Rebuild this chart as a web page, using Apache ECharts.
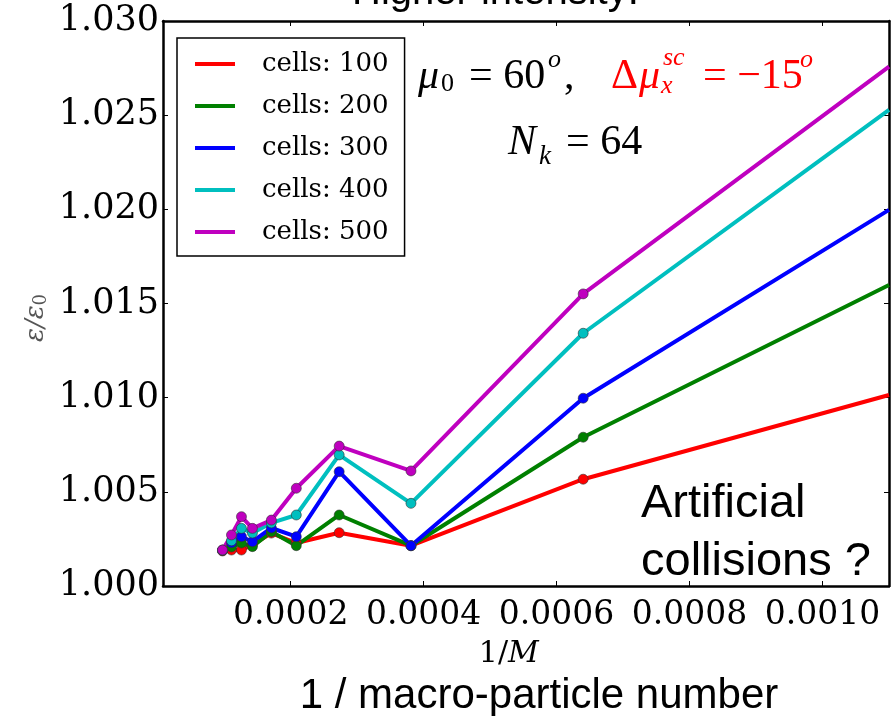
<!DOCTYPE html>
<html>
<head>
<meta charset="utf-8">
<script src="https://cdn.jsdelivr.net/npm/echarts@6/dist/echarts.min.js"></script>
<style>
  html, body { margin: 0; padding: 0; background: #fff; }
  #chart { width: 891px; height: 716px; }
</style>
</head>
<body>
<div id="chart"></div>
<script>
// 1/M on the x axis; the last entry is where the lines leave the frame
var invM = [0.0000975, 0.000111, 0.000126, 0.0001425, 0.000171, 0.0002085, 0.000273, 0.000381, 0.00064, 0.0011];

var cells100 = [1.00186, 1.00191, 1.00191, 1.00218, 1.00281, 1.00228, 1.00283, 1.00214, 1.00567, 1.01014];
var cells200 = [1.00190, 1.00207, 1.00228, 1.00209, 1.00288, 1.00214, 1.00377, 1.00214, 1.00790, 1.01598];
var cells300 = [1.00190, 1.00230, 1.00262, 1.00235, 1.00308, 1.00262, 1.00607, 1.00214, 1.00997, 1.01997];
var cells400 = [1.00190, 1.00240, 1.00306, 1.00281, 1.00335, 1.00377, 1.00696, 1.00439, 1.01342, 1.02528];
var cells500 = [1.00191, 1.00271, 1.00368, 1.00306, 1.00350, 1.00519, 1.00743, 1.00611, 1.01551, 1.02758];

var seriesNames = ['cells: 100', 'cells: 200', 'cells: 300', 'cells: 400', 'cells: 500'];
var seriesColors = ['#ff0000', '#008000', '#0000ff', '#00bfbf', '#bf00bf'];
var seriesValues = [cells100, cells200, cells300, cells400, cells500];

var chart = echarts.init(document.getElementById('chart'));

function lineSeries(name, vals, color) {
  return {
    name: name,
    type: 'line',
    data: invM.map(function (x, i) {
      var p = { value: [x, vals[i]] };
      if (i === invM.length - 1) p.symbol = 'none'; // edge of frame, no marker
      return p;
    }),
    symbol: 'circle',
    symbolSize: 10,
    lineStyle: { color: color, width: 4 },
    itemStyle: { color: color, borderColor: '#333', borderWidth: 0.6 },
    emphasis: { disabled: true },
    silent: true
  };
}

// one piece of text for the annotations
function txt(s, x, y, size, o) {
  o = o || {};
  return {
    type: 'text', x: x, y: y, rotation: o.rot || 0, z: 100,
    style: {
      text: s,
      fontSize: size,
      fontFamily: o.font || 'Liberation Serif',
      fontStyle: o.italic ? 'italic' : 'normal',
      fill: o.color || '#000',
      align: o.align || 'left',
      verticalAlign: 'middle'
    }
  };
}

var red = { color: '#ff0000' };

var option = {
  animation: false,
  backgroundColor: '#fff',
  grid: { left: 163, right: 2, top: 21, bottom: 130, containLabel: false },
  legend: {
    data: seriesNames,
    orient: 'vertical',
    left: 177,
    top: 38,
    padding: [13, 16, 11, 18],
    itemGap: 16,
    itemWidth: 40,
    itemHeight: 4,
    icon: 'rect',
    itemStyle: { borderWidth: 0 },
    borderColor: '#000',
    borderWidth: 1.5,
    backgroundColor: '#fff',
    formatter: '{t|{name}}',
    textStyle: {
      fontFamily: 'DejaVu Serif',
      fontSize: 26,
      lineHeight: 26,
      color: '#000',
      rich: { t: { fontFamily: 'DejaVu Serif', fontSize: 26, padding: [0, 0, 0, 22] } }
    },
    selectedMode: false
  },
  xAxis: [{
    type: 'value',
    min: 0.000008,
    max: 0.0011,
    splitNumber: 5,
    axisLine: { show: true, lineStyle: { color: '#000', width: 2.5 } },
    axisTick: { show: true, inside: true, length: 5, lineStyle: { color: '#000', width: 1 } },
    axisLabel: {
      showMinLabel: false, showMaxLabel: false,
      margin: 13,
      fontFamily: 'DejaVu Serif', fontSize: 33, color: '#000',
      formatter: function (v) { return v.toFixed(4); }
    },
    splitLine: { show: false }
  }, {
    type: 'value',
    position: 'top',
    min: 0.000008,
    max: 0.0011,
    splitNumber: 5,
    axisLine: { show: true, onZero: false, lineStyle: { color: '#000', width: 2.5 } },
    axisTick: { show: true, inside: true, length: 5, lineStyle: { color: '#000', width: 1 } },
    axisLabel: { show: false },
    splitLine: { show: false }
  }],
  yAxis: [{
    type: 'value',
    min: 1.000,
    max: 1.030,
    interval: 0.005,
    axisLine: { show: true, lineStyle: { color: '#000', width: 2.5 } },
    axisTick: { show: true, inside: true, length: 5, lineStyle: { color: '#000', width: 1 } },
    axisLabel: {
      margin: 4,
      fontFamily: 'DejaVu Serif', fontSize: 35, color: '#000',
      formatter: function (v) { return v.toFixed(3); }
    },
    splitLine: { show: false }
  }, {
    type: 'value',
    position: 'right',
    min: 1.000,
    max: 1.030,
    interval: 0.005,
    axisLine: { show: true, onZero: false, lineStyle: { color: '#000', width: 2.5 } },
    axisTick: { show: true, inside: true, length: 5, lineStyle: { color: '#000', width: 1 } },
    axisLabel: { show: false },
    splitLine: { show: false }
  }],
  series: seriesNames.map(function (n, i) {
    return lineSeries(n, seriesValues[i], seriesColors[i]);
  }),
  graphic: [
    // cut-off heading at the very top
    txt('Higher intensity:', 352, -7, 40, { font: 'Liberation Sans' }),
    // mu_0 = 60^o ,
    txt('\u03bc', 418, 77, 42, { italic: true }),
    txt('0', 441, 84, 26),
    txt('= 60', 469, 77, 42),
    txt('o', 548, 60, 26, { italic: true }),
    txt(',', 564, 77, 42),
    // Delta mu_x^sc = -15^o
    txt('\u0394', 611, 77, 42, red),
    txt('\u03bc', 639, 77, 42, { italic: true, color: '#ff0000' }),
    txt('sc', 663, 58, 26, { italic: true, color: '#ff0000' }),
    txt('x', 661, 86, 26, { italic: true, color: '#ff0000' }),
    txt('= \u221215', 703, 77, 42, red),
    txt('o', 800, 60, 26, { italic: true, color: '#ff0000' }),
    // N_k = 64
    txt('N', 508, 143, 42, { italic: true }),
    txt('k', 539, 157, 27, { italic: true }),
    txt('= 64', 566, 143, 42),
    // side note
    txt('Artificial', 641, 504, 47, { font: 'Liberation Sans' }),
    txt('collisions ?', 641, 562, 47, { font: 'Liberation Sans' }),
    // axis titles
    txt('1/', 508, 654, 30, { font: 'DejaVu Serif', align: 'right' }),
    txt('M', 508, 654, 30, { font: 'DejaVu Serif', italic: true }),
    txt('1 / macro-particle number', 539, 696, 42, { font: 'Liberation Sans', align: 'center' }),
    {
      type: 'text', x: 36, y: 318, rotation: Math.PI / 2, z: 100,
      style: {
        text: '{e|\u03b5/\u03b5}{s|0}',
        align: 'center', verticalAlign: 'middle',
        rich: {
          e: { fontFamily: 'DejaVu Serif', fontStyle: 'italic', fontSize: 26, fill: '#555', verticalAlign: 'middle' },
          s: { fontFamily: 'DejaVu Serif', fontSize: 18, fill: '#555', verticalAlign: 'bottom', padding: [10, 0, 0, 0] }
        }
      }
    }
  ]
};

chart.setOption(option);
</script>
</body>
</html>
